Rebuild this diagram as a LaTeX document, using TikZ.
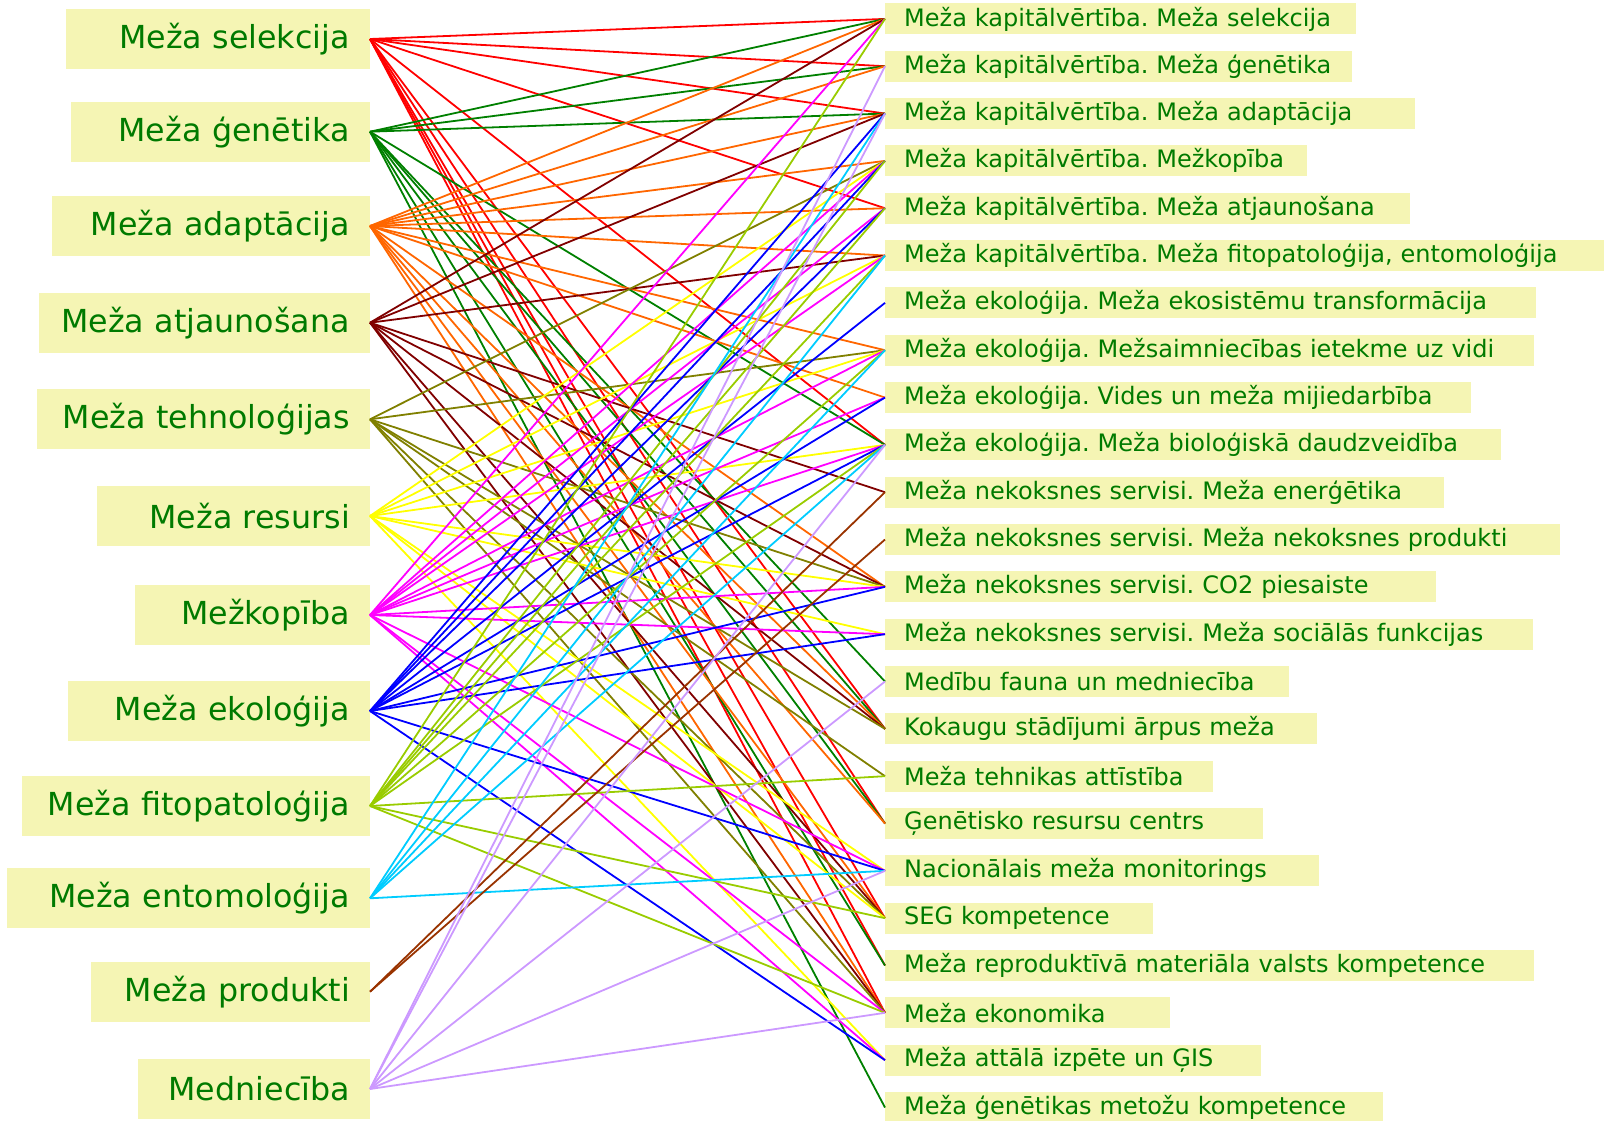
\documentclass[tikz,border=0pt]{standalone}
\usepackage{fontspec}
\setmainfont{DejaVu Sans}
\usepackage{xcolor}
\definecolor{txtgreen}{RGB}{0,122,0}
\definecolor{boxyellow}{RGB}{245,245,180}
\definecolor{cselekcija}{HTML}{FF0000}
\definecolor{cgenetika}{HTML}{008000}
\definecolor{cadaptacija}{HTML}{FF6600}
\definecolor{catjaunosana}{HTML}{800000}
\definecolor{ctehnologijas}{HTML}{808000}
\definecolor{cresursi}{HTML}{FFFF00}
\definecolor{cmezkopiba}{HTML}{FF00FF}
\definecolor{cekologija}{HTML}{0000FF}
\definecolor{cfito}{HTML}{99CC00}
\definecolor{cento}{HTML}{00CCFF}
\definecolor{cprodukti}{HTML}{993300}
\definecolor{cmedniecina}{HTML}{CC99FF}
\frenchspacing

\begin{document}
\begin{tikzpicture}[x=1pt,y=-1pt,
    lbox/.style={fill=boxyellow, text=txtgreen, anchor=east, align=right,
      inner xsep=20pt, inner ysep=0pt, minimum height=60pt,
      font=\fontsize{31.7}{36}\selectfont},
    rbox/.style={fill=boxyellow, text=txtgreen, anchor=west, align=left,
      inner xsep=19pt, inner ysep=0pt, minimum height=31pt,
      font=\fontsize{24}{28}\selectfont},
    link/.style={line width=1.8pt}]
  \useasboundingbox (0,0) rectangle (1604,1121);

  % left column
  \foreach \n/\y/\xl/\txt in {1/39/66.5/Meža selekcija, 2/131.7/71.6/Meža ģenētika,
      3/226/52.2/Meža adaptācija, 4/322.7/38.9/Meža atjaunošana,
      5/419.3/36.8/Meža tehnoloģijas, 6/516/97.2/Meža resursi,
      7/615/135/Mežkopība, 8/711/68.5/Meža ekoloģija,
      9/806/22.5/Meža fitopatoloģija, 10/898.3/7.2/Meža entomoloģija,
      11/991.7/91/Meža produkti, 12/1089/138/Medniecība}
    {\pgfmathsetmacro\w{330-\xl}
     \node[lbox, text width=\w pt] (L\n) at (370,\y) {\txt};}

  % right column
  \foreach \n/\xr/\txt in {1/1355.5/Meža kapitālvērtība. Meža selekcija,
      2/1351.4/Meža kapitālvērtība. Meža ģenētika,
      3/1414.8/Meža kapitālvērtība. Meža adaptācija,
      4/1306.4/Meža kapitālvērtība. Mežkopība,
      5/1409.7/Meža kapitālvērtība. Meža atjaunošana,
      6/1604/{Meža kapitālvērtība. Meža fitopatoloģija, entomoloģija},
      7/1535.5/Meža ekoloģija. Meža ekosistēmu transformācija,
      8/1533.5/Meža ekoloģija. Mežsaimniecības ietekme uz vidi,
      9/1471/Meža ekoloģija. Vides un meža mijiedarbība,
      10/1500.7/Meža ekoloģija. Meža bioloģiskā daudzveidība,
      11/1443.4/Meža nekoksnes servisi. Meža enerģētika,
      12/1560/Meža nekoksnes servisi. Meža nekoksnes produkti,
      13/1435.3/Meža nekoksnes servisi. CO2 piesaiste,
      14/1532.5/Meža nekoksnes servisi. Meža sociālās funkcijas,
      15/1289/Medību fauna un medniecība,
      16/1316.6/Kokaugu stādījumi ārpus meža,
      17/1212.3/Meža tehnikas attīstība,
      18/1262.4/Ģenētisko resursu centrs,
      19/1318.6/Nacionālais meža monitorings,
      20/1153/SEG kompetence,
      21/1533.5/Meža reproduktīvā materiāla valsts kompetence,
      22/1169.3/Meža ekonomika,
      23/1260.3/Meža attālā izpēte un ĢIS,
      24/1383/Meža ģenētikas metožu kompetence}
    {\pgfmathsetmacro\y{18.9+47.33*(\n-1)}
     \pgfmathsetmacro\w{\xr-885-38}
     \node[rbox, text width=\w pt] (R\n) at (885,\y) {\mbox{\txt}};}

  % links
  \foreach \a/\c/\targets in {1/cselekcija/{1,2,3,5,10,16,18,20,21,22},
      2/cgenetika/{1,2,3,10,15,16,18,21,24},
      3/cadaptacija/{1,2,3,4,5,6,8,9,13,16,18,20,22},
      4/catjaunosana/{1,3,6,11,13,16,20,22},
      5/ctehnologijas/{4,8,13,16,17,20,22},
      6/cresursi/{4,6,8,10,13,14,19,20,23},
      7/cmezkopiba/{1,4,5,6,8,9,10,13,14,19,22,23},
      8/cekologija/{3,4,5,7,9,10,13,14,19,23},
      9/cfito/{1,4,5,6,8,10,17,20,22},
      10/cento/{3,6,8,10,19},
      11/cprodukti/{11,12},
      12/cmedniecina/{2,3,10,15,19,22}}
    {\foreach \b in \targets
       \draw[link, \c] (L\a.east) -- (R\b.west);}
\end{tikzpicture}
\end{document}
